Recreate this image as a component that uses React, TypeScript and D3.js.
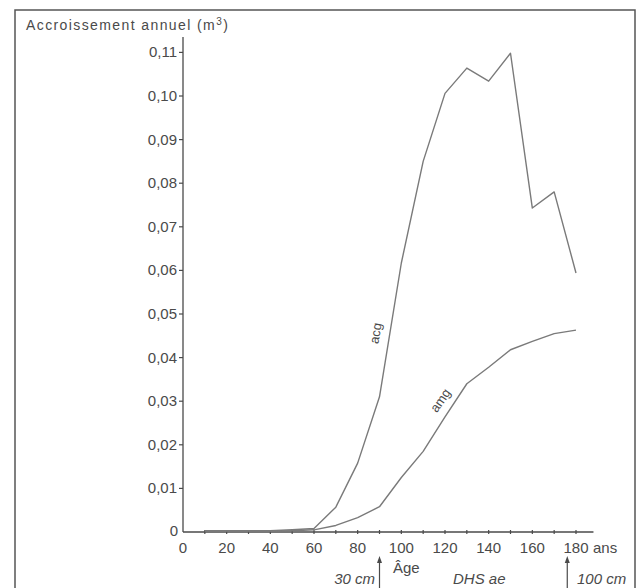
import * as d3 from "d3";
import React from "react";

// age (ans) and annual increment (m3)
const ages = [10, 20, 30, 40, 50, 60, 70, 80, 90, 100, 110, 120, 130, 140, 150, 160, 170, 180];
const acg = [0.0003, 0.0003, 0.0003, 0.0003, 0.0005, 0.0008, 0.0057, 0.0158, 0.031, 0.0617, 0.085, 0.1006, 0.1064, 0.1034, 0.1098, 0.0743, 0.078, 0.0594];
const amg = [0.0002, 0.0002, 0.0002, 0.0002, 0.0003, 0.0005, 0.0015, 0.0033, 0.0058, 0.0125, 0.0185, 0.0264, 0.034, 0.0378, 0.0418, 0.0437, 0.0455, 0.0463];

const yTicks = [0.01, 0.02, 0.03, 0.04, 0.05, 0.06, 0.07, 0.08, 0.09, 0.1, 0.11];
const xLabels = [0, 20, 40, 60, 80, 100, 120, 140, 160, 180];
const xMinor = d3.range(10, 190, 10);

const W = 644;
const H = 588;
const ink = "#4a4a4a";
const lineCol = "#7a7a7a";
const font = "'Liberation Sans', Arial, sans-serif";

export default function App() {
  const x = d3.scaleLinear().domain([0, 180]).range([183, 576]);
  const y = d3.scaleLinear().domain([0, 0.11]).range([532, 52.4]);

  const line = d3
    .line<number>()
    .x((d, i) => x(ages[i]))
    .y((d) => y(d));

  const fmt = (v: number) => d3.format(".2f")(v).replace(".", ",");

  const x0 = x(0);
  const y0 = y(0);

  return (
    <svg
      width={W}
      height={H}
      style={{ position: "absolute", left: 0, top: 0, background: "#fff" }}
      fontFamily={font}
    >
      <rect x={0} y={0} width={W} height={H} fill="#fff" />
      {/* frame */}
      <rect x={15} y={10} width={620} height={H + 20} fill="none" stroke="#555" strokeWidth={1.5} />

      <text x={26} y={30} fontSize={14} fill={ink} letterSpacing={1.4}>
        Accroissement annuel (m<tspan fontSize={10} dy={-5}>3</tspan>
        <tspan dy={5}>)</tspan>
      </text>

      {/* y axis */}
      <line x1={x0} x2={x0} y1={37} y2={y0} stroke={ink} strokeWidth={1.3} />
      {yTicks.map((t) => (
        <g key={t}>
          <line x1={x0 - 4} x2={x0} y1={y(t)} y2={y(t)} stroke={ink} strokeWidth={1.2} />
          <text x={x0 - 6} y={y(t) + 5} fontSize={15} fill={ink} textAnchor="end">
            {fmt(t)}
          </text>
        </g>
      ))}
      <text x={x0 - 5} y={y0 + 4} fontSize={15} fill={ink} textAnchor="end">
        0
      </text>

      {/* x axis */}
      <line x1={x0} x2={x(188)} y1={y0} y2={y0} stroke={ink} strokeWidth={1.3} />
      {xMinor.map((t) => (
        <line key={t} x1={x(t)} x2={x(t)} y1={y0 - 2} y2={y0 + 2} stroke={ink} strokeWidth={1.2} />
      ))}
      {xLabels.map((t) => (
        <text key={t} x={x(t)} y={553} fontSize={15} fill={ink} textAnchor="middle">
          {t}
        </text>
      ))}
      <text x={593} y={553} fontSize={15} fill={ink}>
        ans
      </text>

      {/* curves */}
      <path d={line(acg) || ""} fill="none" stroke={lineCol} strokeWidth={1.4} strokeLinejoin="round" />
      <path d={line(amg) || ""} fill="none" stroke={lineCol} strokeWidth={1.4} strokeLinejoin="round" />

      <text
        transform={`translate(380,334) rotate(-80)`}
        fontSize={13}
        fill={ink}
        textAnchor="middle"
      >
        acg
      </text>
      <text
        transform={`translate(444,403) rotate(-55)`}
        fontSize={13}
        fill={ink}
        textAnchor="middle"
      >
        amg
      </text>

      {/* bottom annotations */}
      <line x1={x(90)} x2={x(90)} y1={560} y2={H} stroke={ink} strokeWidth={1.2} />
      <path d={`M${x(90) - 2.5},563 L${x(90)},556 L${x(90) + 2.5},563 Z`} fill={ink} />
      <line x1={x(176)} x2={x(176)} y1={560} y2={H} stroke={ink} strokeWidth={1.2} />
      <path d={`M${x(176) - 2.5},563 L${x(176)},556 L${x(176) + 2.5},563 Z`} fill={ink} />

      <text x={375} y={584} fontSize={15} fill={ink} fontStyle="italic" textAnchor="end">
        30 cm
      </text>
      <text x={393} y={573} fontSize={15} fill={ink}>
        Âge
      </text>
      <text x={453} y={584} fontSize={15} fill={ink} fontStyle="italic">
        DHS ae
      </text>
      <text x={577} y={584} fontSize={15} fill={ink} fontStyle="italic">
        100 cm
      </text>
    </svg>
  );
}
